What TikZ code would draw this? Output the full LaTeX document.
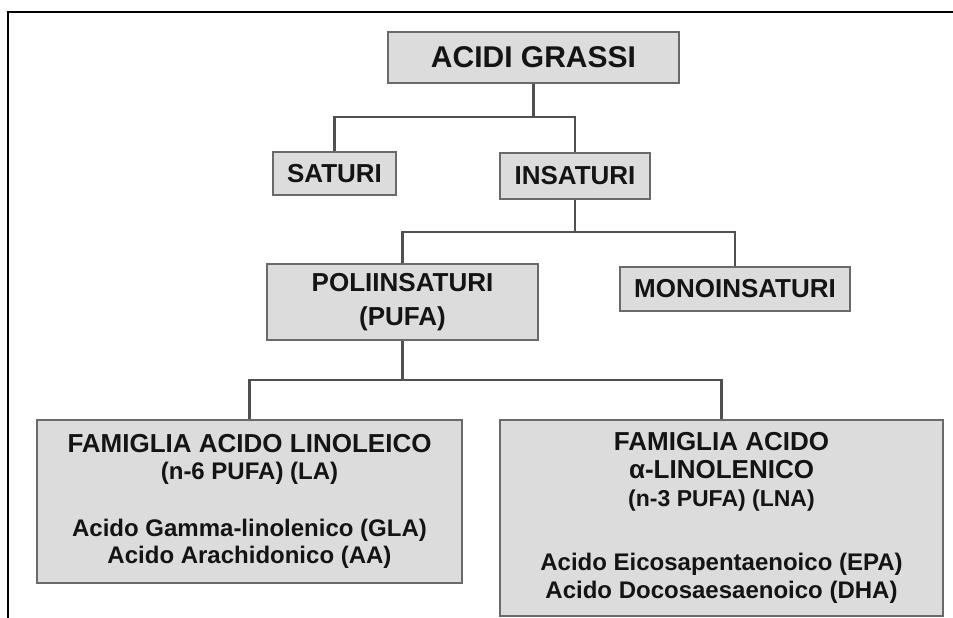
\documentclass[tikz,border=0pt]{standalone}
\usepackage{fontspec}
\setmainfont{Liberation Sans}
\definecolor{boxfill}{HTML}{DCDCDC}
\definecolor{boxline}{HTML}{6A6A6A}
\definecolor{wirecol}{HTML}{505050}
\definecolor{ink}{HTML}{141414}
\begin{document}
\begin{tikzpicture}[x=1pt,y=-1pt,
  box/.style={draw=boxline, line width=2.5pt, fill=boxfill, inner sep=0pt,
              align=center, text=ink},
  head/.style={font=\bfseries\fontsize{26}{34}\selectfont},
  wire/.style={draw=wirecol, line width=2.5pt},
  frame/.style={draw=black, line width=2pt}
  ]
\useasboundingbox (0,0) rectangle (953,618);
\draw[frame] (953,12) -- (8,12) -- (8,618);

\node[box, minimum width=291pt, minimum height=51pt,
      font=\bfseries\fontsize{30}{31}\selectfont] (ag) at (533.5,57.5) {ACIDI GRASSI};
\node[box, head, minimum width=123pt, minimum height=43pt] (sat) at (334.5,173.5) {SATURI};
\node[box, head, minimum width=150pt, minimum height=46pt] (ins) at (575,176) {INSATURI};
\node[box, head, minimum width=271pt, minimum height=76pt] (pufa) at (402.5,302) {POLIINSATURI\\(PUFA)};
\node[box, head, minimum width=230pt, minimum height=44pt] (mono) at (735,289) {MONOINSATURI};

\node[box, minimum width=425pt, minimum height=163pt,
      font=\bfseries\fontsize{24}{27}\selectfont] (la) at (249.5,501.5)
  {{\fontsize{26}{27}\selectfont FAMIGLIA ACIDO LINOLEICO}\\
   (n-6 PUFA) (LA)\\[30pt]
   Acido Gamma-linolenico (GLA)\\
   Acido Arachidonico (AA)};
\node[box, minimum width=443pt, minimum height=196pt,
      font=\bfseries\fontsize{24}{28}\selectfont] (lna) at (721.5,518)
  {{\fontsize{26}{28}\selectfont FAMIGLIA ACIDO}\\
   {\fontsize{26}{28}\selectfont α-LINOLENICO}\\
   {\fontsize{23}{28}\selectfont (n-3 PUFA) (LNA)}\\[36pt]
   Acido Eicosapentaenoico (EPA)\\
   Acido Docosaesaenoico (DHA)};

\coordinate (b1) at (533.5,117);
\coordinate (b2) at (575,232);
\coordinate (b3) at (402.5,380);

\draw[wire] (ag.south) -- (b1);
\draw[wire] (b1) -| (sat.north);
\draw[wire] (b1) -| (ins.north);
\draw[wire] (ins.south) -- (b2);
\draw[wire] (b2) -| (pufa.north);
\draw[wire] (b2) -| (mono.north);
\draw[wire] (pufa.south) -- (b3);
\draw[wire] (b3) -| (la.north);
\draw[wire] (b3) -| (lna.north);
\end{tikzpicture}
\end{document}
